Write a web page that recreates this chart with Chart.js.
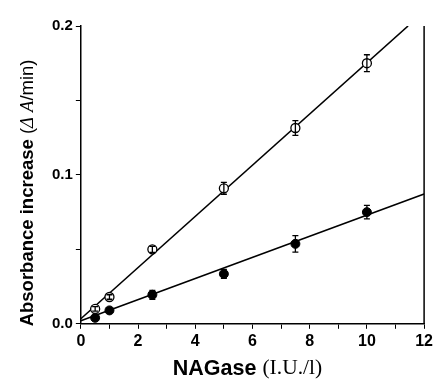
<!DOCTYPE html>
<html><head><meta charset="utf-8">
<script src="https://cdn.jsdelivr.net/npm/chart.js@4"></script>
<style>html,body{margin:0;padding:0;background:#fff}#wrap{width:436px;height:381px}</style>
</head><body><div id="wrap"><canvas id="c" width="436" height="381"></canvas></div>
<script>
const nagase = [0.5, 1, 2.5, 5, 7.5, 10];
const openY = [0.010, 0.018, 0.050, 0.091, 0.1315, 0.175];
const openErr = [0.0015, 0.0015, 0.002, 0.004, 0.005, 0.0057];
const filledY = [0.004, 0.009, 0.0195, 0.0335, 0.0537, 0.075];
const filledErr = [0.0015, 0.0015, 0.003, 0.003, 0.0055, 0.0045];
const openFitX = [0, 11.44];
const openFitY = [0.0034, 0.2];
const filledFitX = [0, 12];
const filledFitY = [0.002, 0.0872];
const xTickLabels = [0, 2, 4, 6, 8, 10, 12];
const yTickLabels = [0.0, 0.1, 0.2];
const xTitleParts = [
  {t: 'NAGase ', f: 'bold 21.5px "Liberation Sans", Arial'},
  {t: '(I.U./l)', f: '21.5px "Liberation Serif", serif'}
];
const yTitleParts = [
  {t: 'Absorbance increase ', f: 'bold 18.5px "Liberation Sans", Arial'},
  {t: '(', f: '18.5px "Liberation Sans", Arial'},
  {t: '\u0394', f: 'italic 18.5px "Liberation Serif", serif'},
  {t: ' ', f: '18.5px "Liberation Sans", Arial'},
  {t: 'A', f: 'italic 18.5px "Liberation Serif", serif'},
  {t: '/min)', f: '18.5px "Liberation Sans", Arial'}
];

const pts = (xs, ys) => xs.map((x, i) => ({x: x, y: ys[i]}));

function drawParts(ctx, parts, cx, cy, rot) {
  ctx.save();
  ctx.translate(cx, cy);
  if (rot) ctx.rotate(rot);
  let total = 0;
  parts.forEach(p => { ctx.font = p.f; total += ctx.measureText(p.t).width; });
  let x = -total / 2;
  ctx.fillStyle = '#000';
  ctx.textBaseline = 'middle';
  ctx.textAlign = 'left';
  parts.forEach(p => { ctx.font = p.f; ctx.fillText(p.t, x, 0); x += ctx.measureText(p.t).width; });
  ctx.restore();
}

const extras = {
  id: 'extras',
  afterDatasetsDraw(chart) {
    const ctx = chart.ctx, xs = chart.scales.x, ys = chart.scales.y;
    ctx.save();
    ctx.strokeStyle = '#000'; ctx.lineWidth = 1.3;
    [[openY, openErr], [filledY, filledErr]].forEach(([vals, errs]) => {
      nagase.forEach((x, i) => {
        const px = xs.getPixelForValue(x);
        const top = ys.getPixelForValue(vals[i] + errs[i]);
        const bot = ys.getPixelForValue(vals[i] - errs[i]);
        ctx.beginPath();
        ctx.moveTo(px, top); ctx.lineTo(px, bot);
        ctx.moveTo(px - 3, top); ctx.lineTo(px + 3, top);
        ctx.moveTo(px - 3, bot); ctx.lineTo(px + 3, bot);
        ctx.stroke();
      });
    });
    const a = chart.chartArea;
    ctx.lineWidth = 1.5;
    ctx.beginPath(); ctx.moveTo(a.right, a.top); ctx.lineTo(a.right, a.bottom); ctx.stroke();
    ctx.restore();
    drawParts(ctx, xTitleParts, (a.left + a.right) / 2 - 5, a.bottom + 45, 0);
    drawParts(ctx, yTitleParts, a.left - 53, (a.top + a.bottom) / 2 + 18, -Math.PI / 2);
  }
};

new Chart(document.getElementById('c'), {
  type: 'scatter',
  data: {
    datasets: [
      {type: 'line', data: pts(openFitX, openFitY), borderColor: '#000', borderWidth: 1.6, pointRadius: 0, fill: false, order: 3},
      {type: 'line', data: pts(filledFitX, filledFitY), borderColor: '#000', borderWidth: 1.6, pointRadius: 0, fill: false, order: 3},
      {data: pts(nagase, openY), pointRadius: 4.5, pointBackgroundColor: '#fff', pointBorderColor: '#000', pointBorderWidth: 1.3, order: 1},
      {data: pts(nagase, filledY), pointRadius: 4.5, pointBackgroundColor: '#000', pointBorderColor: '#000', pointBorderWidth: 1, order: 1}
    ]
  },
  options: {
    responsive: false, animation: false,
    layout: {padding: {left: 49, right: 4, top: 26, bottom: 27}},
    plugins: {legend: {display: false}, tooltip: {enabled: false}},
    scales: {
      x: {
        type: 'linear', min: 0, max: 12,
        border: {color: '#000', width: 1.5},
        grid: {drawOnChartArea: false, color: '#000', tickLength: 5, lineWidth: 1},
        ticks: {stepSize: 1, color: '#000', padding: 3, maxRotation: 0, autoSkip: false,
          font: {family: 'Liberation Sans, Arial', size: 16, weight: 'bold'},
          callback: v => xTickLabels.includes(v) ? String(v) : ''}
      },
      y: {
        type: 'linear', min: 0, max: 0.2,
        border: {color: '#000', width: 1.5},
        grid: {drawOnChartArea: false, color: '#000', tickLength: 5, lineWidth: 1},
        ticks: {stepSize: 0.05, color: '#000', padding: 3, autoSkip: false,
          font: {family: 'Liberation Sans, Arial', size: 15, weight: 'bold'},
          callback: v => yTickLabels.some(t => Math.abs(t - v) < 1e-9) ? v.toFixed(1) : ''}
      }
    }
  },
  plugins: [extras]
});
</script></body></html>
